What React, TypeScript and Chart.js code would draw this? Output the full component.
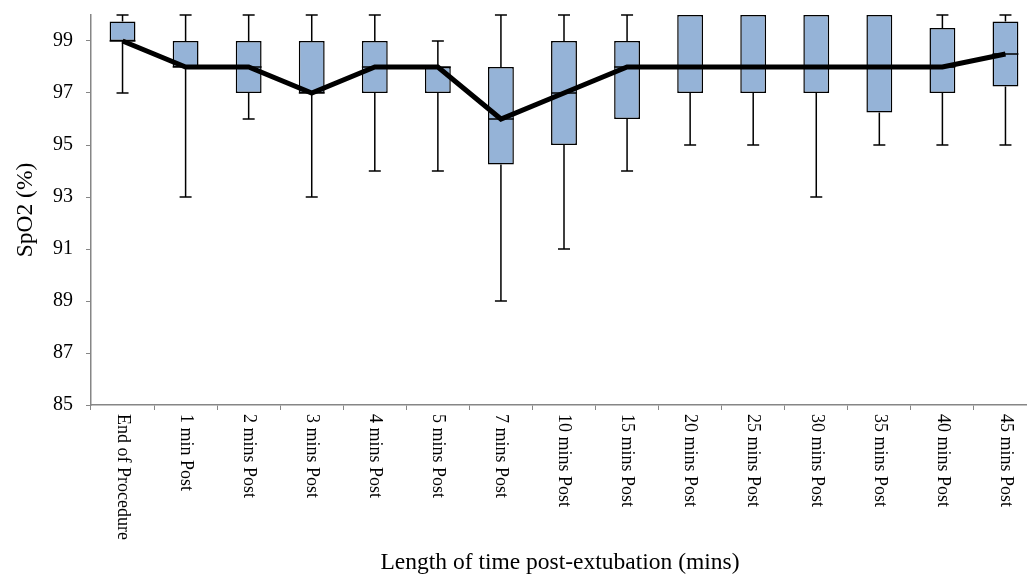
import React, { useEffect, useRef } from "react";
import { Chart, registerables } from "chart.js";

Chart.register(...registerables);

const categories = [
  "End of Procedure",
  "1 min Post",
  "2 mins Post",
  "3 mins Post",
  "4 mins Post",
  "5 mins Post",
  "7 mins Post",
  "10 mins Post",
  "15 mins Post",
  "20 mins Post",
  "25 mins Post",
  "30 mins Post",
  "35 mins Post",
  "40 mins Post",
  "45 mins Post",
];
const minValues = [97, 93, 96, 93, 94, 94, 89, 91, 94, 95, 95, 93, 95, 95, 95];
const q1Values = [99, 98, 97, 97, 97, 97, 94.25, 95, 96, 97, 97, 97, 96.25, 97, 97.25];
const medianValues = [99, 98, 98, 97, 98, 98, 96, 97, 98, 98, 98, 98, 98, 98, 98.5];
const q3Values = [99.75, 99, 99, 99, 99, 98, 98, 99, 99, 100, 100, 100, 100, 99.5, 99.75];
const maxValues = [100, 100, 100, 100, 100, 99, 100, 100, 100, 100, 100, 100, 100, 100, 100];
const yTicks = [85, 87, 89, 91, 93, 95, 97, 99];

const yTitle = "SpO2 (%)";
const xTitle = "Length of time post-extubation (mins)";

const SERIF = '"Liberation Serif", "Times New Roman", serif';

const boxPlugin = {
  id: "boxExtras",
  beforeDatasetsDraw(chart: any) {
    const ctx = chart.ctx;
    const x = chart.scales.x;
    const y = chart.scales.y;
    ctx.save();
    ctx.strokeStyle = "#000";
    ctx.lineWidth = 1.5;
    const cap = 6;
    categories.forEach((_, i) => {
      const cx = x.getPixelForValue(i);
      const yMin = y.getPixelForValue(minValues[i]);
      const yQ1 = y.getPixelForValue(q1Values[i]);
      const yQ3 = y.getPixelForValue(q3Values[i]);
      const yMax = y.getPixelForValue(maxValues[i]);
      ctx.beginPath();
      if (minValues[i] < q1Values[i]) {
        ctx.moveTo(cx, yQ1);
        ctx.lineTo(cx, yMin);
        ctx.moveTo(cx - cap, yMin);
        ctx.lineTo(cx + cap, yMin);
      }
      if (maxValues[i] > q3Values[i]) {
        ctx.moveTo(cx, yQ3);
        ctx.lineTo(cx, yMax);
        ctx.moveTo(cx - cap, yMax);
        ctx.lineTo(cx + cap, yMax);
      }
      ctx.stroke();
    });
    ctx.restore();
  },
  afterDatasetDraw(chart: any, args: any) {
    if (args.index !== 0) return;
    const ctx = chart.ctx;
    const y = chart.scales.y;
    const meta = chart.getDatasetMeta(0);
    ctx.save();
    ctx.strokeStyle = "#000";
    ctx.lineWidth = 1.5;
    meta.data.forEach((bar: any, i: number) => {
      const half = bar.width / 2;
      const ym = y.getPixelForValue(medianValues[i]);
      ctx.beginPath();
      ctx.moveTo(bar.x - half, ym);
      ctx.lineTo(bar.x + half, ym);
      ctx.stroke();
    });
    ctx.restore();
  },
  afterDraw(chart: any) {
    const ctx = chart.ctx;
    const x = chart.scales.x;
    const area = chart.chartArea;
    ctx.save();
    ctx.fillStyle = "#000";
    ctx.font = `18px ${SERIF}`;
    ctx.textAlign = "left";
    ctx.textBaseline = "middle";
    categories.forEach((label, i) => {
      const cx = x.getPixelForValue(i);
      ctx.save();
      ctx.translate(cx, area.bottom + 9);
      ctx.rotate(Math.PI / 2);
      ctx.fillText(label, 0, 0);
      ctx.restore();
    });
    ctx.font = `23.5px ${SERIF}`;
    ctx.textAlign = "center";
    ctx.textBaseline = "alphabetic";
    ctx.fillText(xTitle, 560, 569);
    ctx.save();
    ctx.translate(32, (area.top + area.bottom) / 2);
    ctx.rotate(-Math.PI / 2);
    ctx.textBaseline = "alphabetic";
    ctx.fillText(yTitle, 0, 0);
    ctx.restore();
    ctx.restore();
  },
};

export default function App() {
  const ref = useRef<HTMLCanvasElement | null>(null);
  useEffect(() => {
    if (!ref.current) return;
    const chart = new Chart(ref.current, {
      type: "bar",
      data: {
        labels: categories,
        datasets: [
          {
            type: "bar",
            data: categories.map((_, i) => [q1Values[i], q3Values[i]]) as any,
            backgroundColor: "#95B3D7",
            borderColor: "#000",
            borderWidth: 1.5,
            borderSkipped: false,
            categoryPercentage: 1,
            barPercentage: 0.41,
            order: 1,
          },
          {
            type: "line",
            data: medianValues,
            borderColor: "#000",
            borderWidth: 5,
            pointRadius: 0,
            fill: false,
            tension: 0,
            order: 0,
          } as any,
        ],
      },
      options: {
        responsive: false,
        animation: false,
        layout: { padding: { top: 15, left: 0, right: 0, bottom: 0 } },
        plugins: { legend: { display: false }, tooltip: { enabled: false } },
        scales: {
          x: {
            type: "category",
            offset: true,
            grid: {
              display: true,
              offset: true,
              drawOnChartArea: false,
              drawTicks: true,
              tickLength: 5,
              color: "#868686",
            },
            border: { color: "#868686", width: 1.5 },
            ticks: { display: false },
            afterFit: (scale: any) => {
              scale.height = 171;
              scale.paddingLeft = 0;
              scale.paddingRight = 0;
            },
          },
          y: {
            type: "linear",
            min: 85,
            max: 100,
            afterBuildTicks: (scale: any) => {
              scale.ticks = yTicks.map((v) => ({ value: v }));
            },
            grid: {
              drawOnChartArea: false,
              drawTicks: true,
              tickLength: 5,
              color: "#868686",
            },
            border: { color: "#868686", width: 1.5 },
            ticks: {
              color: "#000",
              font: { family: SERIF, size: 20 },
              padding: 13,
            },
            afterFit: (scale: any) => {
              scale.width = 91;
              scale.paddingTop = 0;
              scale.paddingBottom = 0;
            },
          },
        },
      },
      plugins: [boxPlugin],
    });
    return () => chart.destroy();
  }, []);
  return (
    <div
      style={{
        position: "fixed",
        left: 0,
        top: 0,
        width: 1027,
        height: 576,
        overflow: "hidden",
        background: "#fff",
      }}
    >
      <canvas ref={ref} width={1037} height={576} style={{ display: "block" }} />
    </div>
  );
}
